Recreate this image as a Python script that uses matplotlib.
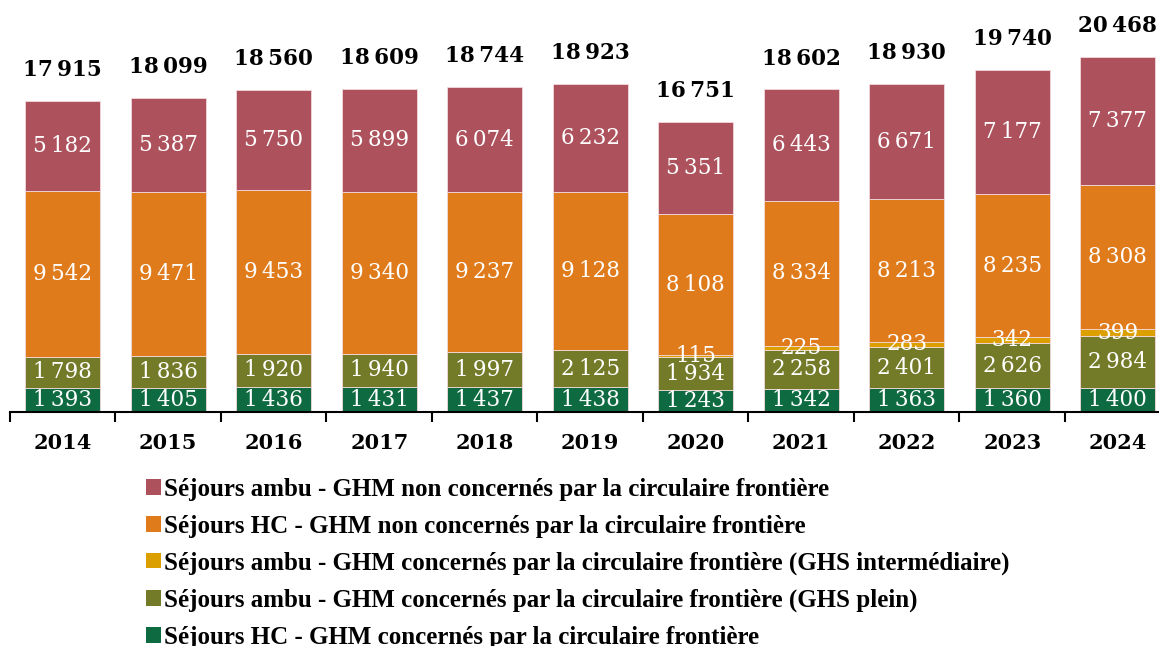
import numpy as np
import matplotlib.pyplot as plt
from matplotlib.patches import Patch

years = ["2014", "2015", "2016", "2017", "2018", "2019", "2020", "2021", "2022", "2023", "2024"]

# séries, de bas en haut
hc_concernes = [1393, 1405, 1436, 1431, 1437, 1438, 1243, 1342, 1363, 1360, 1400]
ambu_plein = [1798, 1836, 1920, 1940, 1997, 2125, 1934, 2258, 2401, 2626, 2984]
ambu_interm = [0, 0, 0, 0, 0, 0, 115, 225, 283, 342, 399]
hc_non_concernes = [9542, 9471, 9453, 9340, 9237, 9128, 8108, 8334, 8213, 8235, 8308]
ambu_non_concernes = [5182, 5387, 5750, 5899, 6074, 6232, 5351, 6443, 6671, 7177, 7377]
# totaux affichés (arrondis de la source)
totaux = [17915, 18099, 18560, 18609, 18744, 18923, 16751, 18602, 18930, 19740, 20468]

labels = [
    "Séjours HC - GHM concernés par la circulaire frontière",
    "Séjours ambu - GHM concernés par la circulaire frontière (GHS plein)",
    "Séjours ambu - GHM concernés par la circulaire frontière (GHS intermédiaire)",
    "Séjours HC - GHM non concernés par la circulaire frontière",
    "Séjours ambu - GHM non concernés par la circulaire frontière",
]
colors = ["#0E6B41", "#737A28", "#DBA000", "#E07B1C", "#AD525D"]
series = [hc_concernes, ambu_plein, ambu_interm, hc_non_concernes, ambu_non_concernes]


def fmt(v):
    return f"{v:,}".replace(",", "\u2009")


fig = plt.figure(figsize=(11.59, 6.46), dpi=100)
ax = fig.add_axes([10 / 1159, 234 / 646, 1160.5 / 1159, 412 / 646])

x = np.arange(len(years))
bottom = np.zeros(len(years))
for vals, col in zip(series, colors):
    vals = np.array(vals)
    ax.bar(x, vals, width=0.71, bottom=bottom, color=col,
           edgecolor="#F3D9DC", linewidth=0.6)
    for xi, b, v in zip(x, bottom, vals):
        if v > 0:
            ax.text(xi, b + v / 2, fmt(v), ha="center", va="center",
                    color="white", fontsize=15.5, family="DejaVu Serif")
    bottom += vals

# totaux au-dessus des barres
for xi, top, t in zip(x, bottom, totaux):
    ax.text(xi, top + 1150, fmt(t), ha="center", va="bottom",
            fontsize=15.5, fontweight="bold", family="DejaVu Serif")

ax.set_xlim(-0.5, len(years) - 0.5)
ax.set_ylim(0, 412 / 0.01734)
ax.set_yticks([])
for s in ["left", "right", "top"]:
    ax.spines[s].set_visible(False)
ax.spines["bottom"].set_linewidth(1.5)

ax.set_xticks(x)
ax.set_xticklabels(years, fontsize=15, fontweight="bold", family="DejaVu Serif")
ax.tick_params(axis="x", which="major", length=0, pad=15)
ax.set_xticks(np.arange(-0.5, len(years)), minor=True)
ax.tick_params(axis="x", which="minor", length=7, width=1.5, direction="out")

handles = [Patch(facecolor=c, edgecolor="none") for c in colors[::-1]]
fig.legend(handles, labels[::-1], loc="upper left", bbox_to_anchor=(146 / 1159, 1 - 478 / 646),
           frameon=False, borderpad=0, borderaxespad=0, handlelength=0.58, handleheight=0.58,
           handletextpad=0.16, labelspacing=0.55,
           prop={"family": "Liberation Serif", "weight": "bold", "size": 18})

fig.savefig("out.png", dpi=100)
